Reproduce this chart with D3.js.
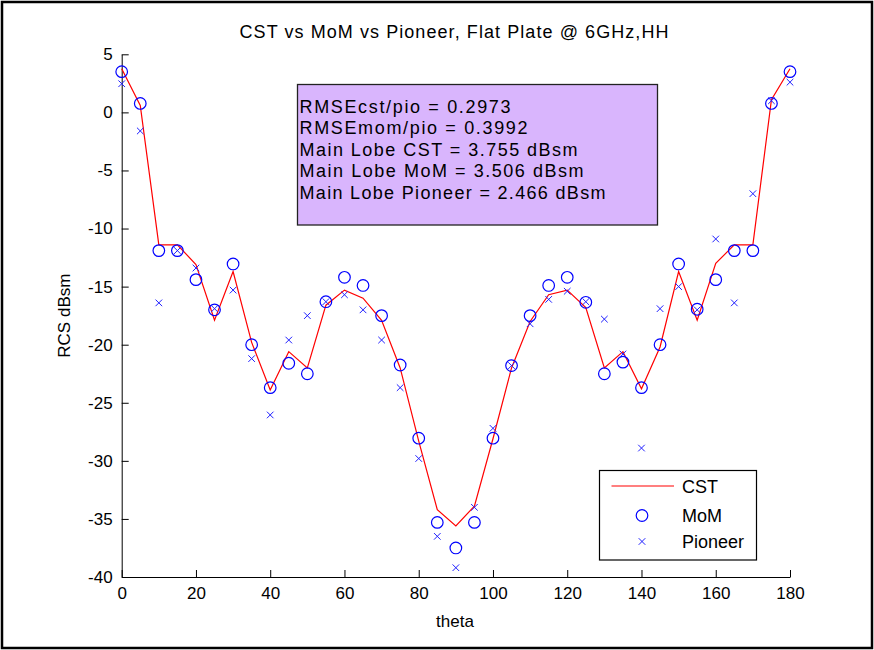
<!DOCTYPE html>
<html>
<head>
<meta charset="utf-8">
<script src="https://cdn.jsdelivr.net/npm/d3@7"></script>
<style>
  html, body { margin: 0; padding: 0; background: #fff; }
  svg { display: block; }
  text { font-family: "Liberation Sans", Arial, sans-serif; fill: #000; }
</style>
</head>
<body>
<svg id="chart" width="874" height="650"></svg>
<script>
// ---- data ----
const theta = [0,5,10,15,20,25,30,35,40,45,50,55,60,65,70,75,80,85,90,95,100,105,110,115,120,125,130,135,140,145,150,155,160,165,170,175,180];
const cst = [3.755,0.6,-11.4,-11.4,-13.1,-17.9,-13.7,-19.8,-23.9,-20.6,-22.0,-16.6,-15.3,-16.0,-17.9,-22.0,-28.3,-34.2,-35.6,-33.9,-28.1,-22.0,-18.0,-15.7,-15.3,-16.8,-22.0,-20.6,-23.8,-20.2,-13.7,-17.9,-13.0,-11.4,-11.4,1.1,3.755];
const mom = [3.506,0.77,-11.9,-11.9,-14.4,-17.0,-13.05,-20.0,-23.7,-21.6,-22.5,-16.3,-14.2,-14.9,-17.5,-21.75,-28.05,-35.3,-37.5,-35.3,-28.05,-21.8,-17.5,-14.9,-14.2,-16.35,-22.5,-21.5,-23.7,-20.0,-13.05,-16.95,-14.4,-11.9,-11.9,0.77,3.506];
const pioneer = [2.466,-1.6,-16.4,-11.9,-13.4,-16.9,-15.3,-21.2,-26.05,-19.6,-17.5,-16.3,-15.7,-17.0,-19.6,-23.7,-29.8,-36.5,-39.2,-34.0,-27.2,-21.8,-18.2,-16.1,-15.4,-16.3,-17.8,-20.8,-28.9,-16.9,-15.0,-17.0,-10.9,-16.4,-7.0,1.0,2.6];
const xTicks = [0,20,40,60,80,100,120,140,160,180];
const yTicks = [5,0,-5,-10,-15,-20,-25,-30,-35,-40];
const titleText = "CST vs MoM vs Pioneer, Flat Plate @ 6GHz,HH";
const xLabel = "theta";
const yLabel = "RCS dBsm";
const statsLines = [
  "RMSEcst/pio = 0.2973",
  "RMSEmom/pio = 0.3992",
  "Main Lobe CST = 3.755 dBsm",
  "Main Lobe MoM = 3.506 dBsm",
  "Main Lobe Pioneer = 2.466 dBsm"
];
const statsWidths = [211, 228, 278, 284, 306];
const legendLabels = ["CST", "MoM", "Pioneer"];

(function () {
// ---- layout ----
const svg = d3.select("#chart");
const pL = 121.7, pR = 790, pT = 54.3, pB = 577;
const x = d3.scaleLinear().domain([0, 180]).range([pL, pR]);
const y = d3.scaleLinear().domain([-40, 5]).range([pB, pT]);
const FS = 17;

// outer frame
svg.append("rect").attr("x", 2).attr("y", 2).attr("width", 870).attr("height", 646)
  .attr("fill", "#fff").attr("stroke", "#000").attr("stroke-width", 2.5);

// axes
const fmt = d => String(d);
const xAxis = d3.axisBottom(x).tickValues(xTicks).tickSizeInner(-7).tickSizeOuter(0).tickPadding(10).tickFormat(fmt);
const yAxis = d3.axisLeft(y).tickValues(yTicks).tickSizeInner(-7).tickSizeOuter(0).tickPadding(9).tickFormat(fmt);

const gx = svg.append("g").attr("transform", `translate(0,${pB})`).call(xAxis);
const gy = svg.append("g").attr("transform", `translate(${pL},0)`).call(yAxis);
[gx, gy].forEach(g => {
  g.attr("font-family", null).attr("font-size", null);
  g.selectAll("text").style("font-size", FS + "px").attr("fill", "#000");
  g.selectAll("line").attr("stroke", "#000");
  g.select(".domain").attr("stroke", "#000");
});

// title & labels
svg.append("text").attr("x", 454).attr("y", 38).attr("text-anchor", "middle")
  .style("font-size", "18px").attr("textLength", 429).attr("lengthAdjust", "spacing").text(titleText);
svg.append("text").attr("x", 455).attr("y", 627).attr("text-anchor", "middle")
  .style("font-size", FS + "px").text(xLabel);
svg.append("text").attr("transform", `translate(70,${(pT + pB) / 2}) rotate(-90)`)
  .attr("text-anchor", "middle").style("font-size", FS + "px").text(yLabel);

// CST line
const line = d3.line().x((d, i) => x(theta[i])).y(d => y(d));
svg.append("path").datum(cst).attr("d", line).attr("fill", "none")
  .attr("stroke", "#ff0000").attr("stroke-width", 1.2);

// MoM circles
svg.append("g").selectAll("circle").data(mom).join("circle")
  .attr("cx", (d, i) => x(theta[i])).attr("cy", d => y(d)).attr("r", 5.8)
  .attr("fill", "none").attr("stroke", "#0000ff").attr("stroke-width", 1.2);

// Pioneer x markers
const xm = 3.3;
const crossPath = (cx, cy) => `M${cx - xm},${cy - xm}L${cx + xm},${cy + xm}M${cx - xm},${cy + xm}L${cx + xm},${cy - xm}`;
svg.append("g").selectAll("path").data(pioneer).join("path")
  .attr("d", (d, i) => crossPath(x(theta[i]), y(d)))
  .attr("fill", "none").attr("stroke", "#2020ff").attr("stroke-width", 1);

// stats text box
const box = svg.append("g");
box.append("rect").attr("x", 297.5).attr("y", 84.5).attr("width", 360).attr("height", 140.5)
  .attr("fill", "#d9b5fd").attr("stroke", "#222").attr("stroke-width", 1.3);
box.selectAll("text").data(statsLines).join("text")
  .attr("x", 299.5).attr("y", (d, i) => 112.5 + i * 21.5)
  .style("font-size", "18px")
  .attr("textLength", (d, i) => statsWidths[i]).attr("lengthAdjust", "spacing")
  .text(d => d);

// legend
const lg = svg.append("g");
lg.append("rect").attr("x", 599.5).attr("y", 470.5).attr("width", 157).attr("height", 89.5)
  .attr("fill", "#fff").attr("stroke", "#000").attr("stroke-width", 1.2);
const ly = [486, 515.5, 541.5];
lg.append("line").attr("x1", 611.5).attr("x2", 674).attr("y1", ly[0]).attr("y2", ly[0])
  .attr("stroke", "#ff0000").attr("stroke-width", 1.2);
lg.append("circle").attr("cx", 642).attr("cy", ly[1]).attr("r", 5.8)
  .attr("fill", "none").attr("stroke", "#0000ff").attr("stroke-width", 1.2);
lg.append("path").attr("d", crossPath(642, ly[2])).attr("fill", "none")
  .attr("stroke", "#2020ff").attr("stroke-width", 1);
lg.selectAll("text").data(legendLabels).join("text")
  .attr("x", 682).attr("y", (d, i) => ly[i] + 6.5)
  .style("font-size", "18px").text(d => d);
})();
</script>
</body>
</html>
